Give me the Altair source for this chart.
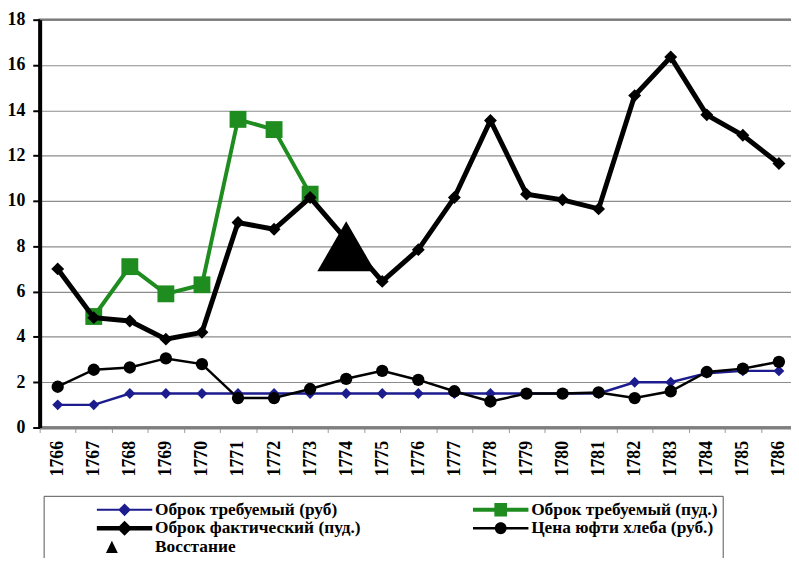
import altair as alt
import pandas as pd

years = list(range(1766, 1787))

# Оброк требуемый (руб)
obrok_rub = [1.0, 1.0, 1.5, 1.5, 1.5, 1.5, 1.5, 1.5, 1.5, 1.5, 1.5, 1.5, 1.5, 1.5,
             1.5, 1.5, 2.0, 2.0, 2.4, 2.5, 2.5]
# Оброк требуемый (пуд.)
obrok_pud_req = [None, 4.9, 7.1, 5.9, 6.3, 13.6, 13.15, 10.3, None, None, None,
                 None, None, None, None, None, None, None, None, None, None]
# Оброк фактический (пуд.)
obrok_fact = [7.0, 4.85, 4.7, 3.9, 4.2, 9.05, 8.75, 10.15, None, 6.45, 7.85,
              10.15, 13.55, 10.3, 10.05, 9.65, 14.65, 16.35, 13.8, 12.9, 11.65]
# Цена юфти хлеба (руб.)
bread_price = [1.8, 2.55, 2.65, 3.05, 2.8, 1.3, 1.3, 1.7, 2.15, 2.5, 2.1,
               1.6, 1.15, 1.5, 1.5, 1.55, 1.3, 1.6, 2.45, 2.6, 2.9]
# Восстание
uprising_years = [1774]
uprising_values = [8.0]

names = ["Оброк требуемый (руб)", "Оброк требуемый (пуд.)",
         "Оброк фактический (пуд.)", "Цена юфти хлеба (руб.)", "Восстание"]
colors = ["#1c1c8e", "#1e8c1e", "#000000", "#000000", "#000000"]

rows = []
for key, name, vals, yrs in [
    ("rub", names[0], obrok_rub, years),
    ("pud", names[1], obrok_pud_req, years),
    ("fact", names[2], obrok_fact, years),
    ("price", names[3], bread_price, years),
    ("riot", names[4], uprising_values, uprising_years),
]:
    for y, v in zip(yrs, vals):
        if v is not None:
            rows.append({"year": y, "value": v, "key": key, "series": name})
df = pd.DataFrame(rows)

SERIF = "Liberation Serif"

X = alt.X(
    "year:O",
    scale=alt.Scale(type="band", paddingInner=0, paddingOuter=0),
    bandPosition=0.5,
    axis=alt.Axis(
        title=None, labelAngle=270, labelFont=SERIF, labelFontSize=18,
        labelFontWeight="bold", labelColor="black", labelPadding=8,
        tickBand="extent", tickColor="#9a9a9a", tickSize=5, tickWidth=1,
        domainColor="#7f7f7f", domainWidth=3, grid=False,
    ),
)
Y = alt.Y(
    "value:Q",
    scale=alt.Scale(domain=[0, 18], nice=False),
    axis=alt.Axis(
        title=None, values=list(range(0, 19, 2)), labelFont=SERIF,
        labelFontSize=18, labelFontWeight="bold", labelColor="black",
        labelPadding=8, tickColor="black", tickSize=7, tickWidth=2,
        domainColor="black", domainWidth=4, grid=True,
        gridColor="#8c8c8c", gridWidth=1.2,
    ),
)


def series_layer(key, color, width, shape, size):
    base = alt.Chart(df).transform_filter(alt.datum.key == key)
    line = base.mark_line(color=color, strokeWidth=width).encode(x=X, y=Y)
    pts = base.mark_point(shape=shape, size=size, filled=True, color=color,
                          opacity=1).encode(x=X, y=Y)
    return line + pts


green = series_layer("pud", colors[1], 4, "square", 290)
blue = series_layer("rub", colors[0], 2.5, "diamond", 120)
fact = series_layer("fact", colors[2], 5, "diamond", 170)
price = series_layer("price", colors[3], 2.5, "circle", 155)
riot = alt.Chart(df).transform_filter(alt.datum.key == "riot").mark_point(
    shape="triangle-up", size=3400, filled=True, color="black", opacity=1
).encode(x=X, y=Y)

legend_paths = [
    "M-3.5,-0.13H3.5V0.13H-3.5Z M0,-0.8L0.8,0L0,0.8L-0.8,0Z",
    "M-3.5,-0.25H3.5V0.25H-3.5Z M-0.8,-0.85H0.8V0.85H-0.8Z",
    "M-3.5,-0.28H3.5V0.28H-3.5Z M0,-0.95L0.95,0L0,0.95L-0.95,0Z",
    "M-3.5,-0.16H3.5V0.16H-3.5Z M-0.75,0A0.75,0.75 0 1,1 0.75,0A0.75,0.75 0 1,1 -0.75,0Z",
    "M-1.6,-0.8L-0.85,0.75L-2.35,0.75Z",
]

LEG = alt.Legend(
    title=None, orient="none", legendX=4, legendY=481, columns=2,
    direction="horizontal",
    strokeColor="#555555", fillColor="white", padding=5,
    symbolSize=256, symbolStrokeWidth=0, symbolOffset=68, symbolOpacity=1,
    labelOffset=22, labelFont=SERIF, labelFontSize=17.5, labelFontWeight="bold",
    labelColor="black", labelLimit=0, rowPadding=0, columnPadding=64,
)

legend_df = pd.DataFrame({"series": names})
legend_layer = alt.Chart(legend_df).mark_point(filled=True, opacity=0).encode(
    color=alt.Color("series:N", scale=alt.Scale(domain=names, range=colors), legend=LEG),
    shape=alt.Shape("series:N", scale=alt.Scale(domain=names, range=legend_paths), legend=LEG),
)

chart = alt.layer(green, blue, fact, price, riot, legend_layer).properties(
    width=765, height=412,
    autosize=alt.AutoSizeParams(type="none"),
    padding={"left": 32, "top": 9, "right": -6, "bottom": 129},
    background="white",
).configure_view(stroke="#6e6e6e", strokeWidth=2.5)

chart.save("out.html", embed_options={"renderer": "svg", "actions": False})
